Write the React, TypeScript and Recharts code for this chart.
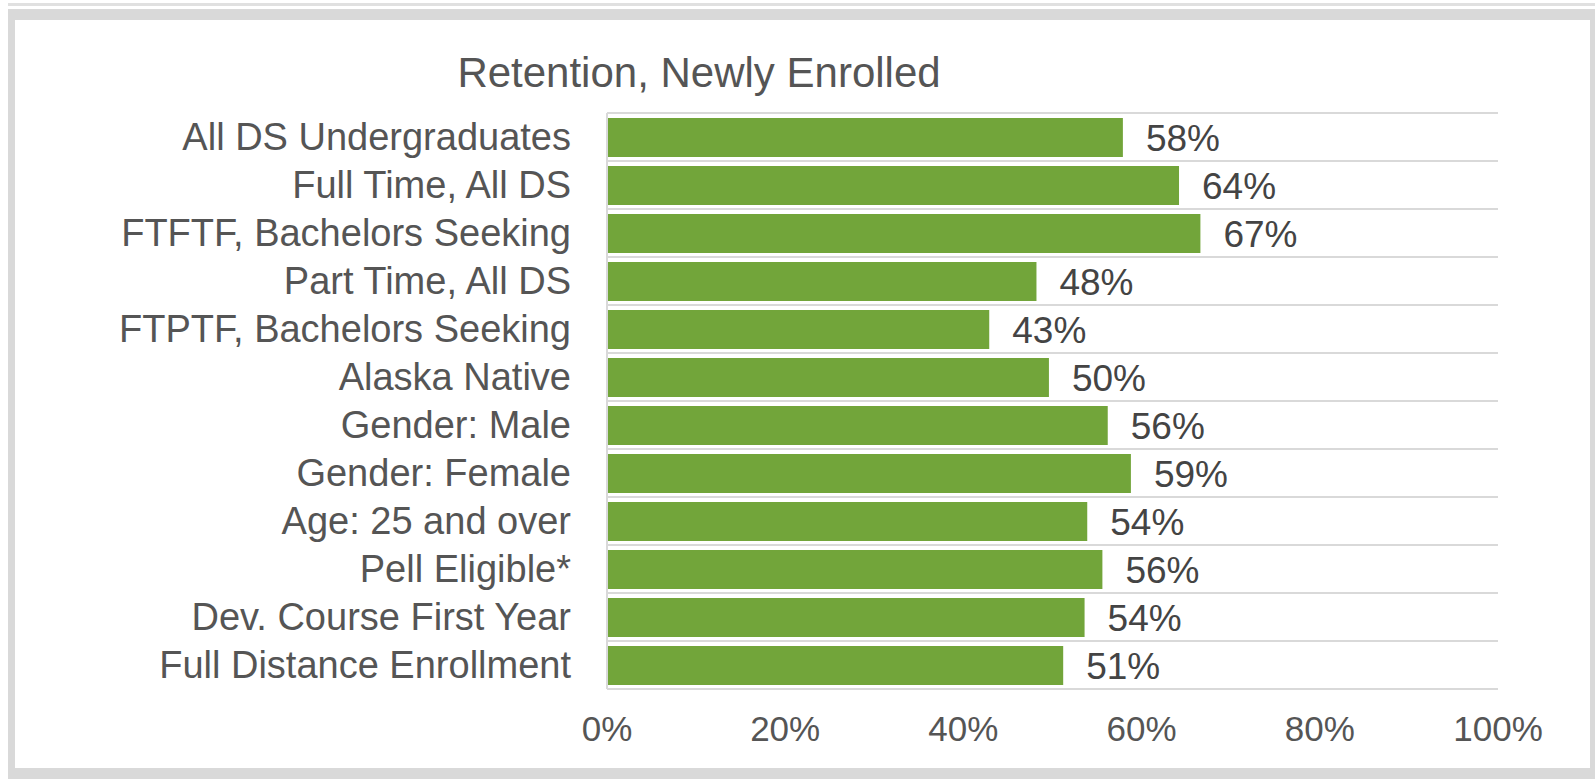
import React from 'react';
import { BarChart, Bar, XAxis, YAxis, CartesianGrid, LabelList } from 'recharts';

const FONT = '"Liberation Sans", Arial, sans-serif';
const TEXT = '#555555';
const GRID = '#d9d9d9';
const GREEN = '#72a53a';

const categories = [
  'All DS Undergraduates',
  'Full Time, All DS',
  'FTFTF, Bachelors Seeking',
  'Part Time, All DS',
  'FTPTF, Bachelors Seeking',
  'Alaska Native',
  'Gender: Male',
  'Gender: Female',
  'Age: 25 and over',
  'Pell Eligible*',
  'Dev. Course First Year',
  'Full Distance Enrollment',
];

const retention = [57.9, 64.2, 66.6, 48.2, 42.9, 49.6, 56.2, 58.8, 53.9, 55.6, 53.6, 51.2];

const xTicks = [0, 20, 40, 60, 80, 100];

const data = categories.map((name, i) => ({ name, value: retention[i] }));

// grid lines sit between the category bands, not through their centres
const bandBorders = ({ offset }: any) => {
  const step = offset.height / categories.length;
  return [...categories.map((_, i) => offset.top + i * step), offset.top + offset.height];
};

const App: React.FC = () => {
  return (
    <div style={{ position: 'absolute', left: 0, top: 0, width: 1595, height: 782, fontFamily: FONT }}>
      <div style={{ position: 'absolute', left: 8, top: 3, width: 1587, height: 3, background: '#e0e0e0' }} />
      <div
        style={{
          position: 'absolute', left: 8, top: 9, width: 1587, height: 770, boxSizing: 'border-box',
          borderStyle: 'solid', borderColor: GRID, borderWidth: '11px 5px 11px 7px', background: '#fff',
        }}
      />
      <div style={{ position: 'absolute', left: 15, top: 20 }}>
        <BarChart
          width={1575}
          height={748}
          data={data}
          layout="vertical"
          margin={{ top: 93, right: 92, left: 0, bottom: 0 }}
        >
          <CartesianGrid vertical={false} stroke={GRID} strokeWidth={2} horizontalCoordinatesGenerator={bandBorders} />
          <XAxis
            type="number"
            domain={[0, 100]}
            ticks={xTicks}
            tickFormatter={(v: number) => `${v}%`}
            axisLine={false}
            tickLine={false}
            tickSize={0}
            tickMargin={27}
            height={79}
            tick={{ fill: TEXT, fontSize: 35, fontFamily: FONT }}
          />
          <YAxis
            type="category"
            dataKey="name"
            width={592}
            axisLine={{ stroke: GRID, strokeWidth: 2 }}
            tickLine={false}
            tickSize={0}
            tickMargin={36}
            interval={0}
            tick={{ fill: TEXT, fontSize: 38, fontFamily: FONT }}
          />
          <Bar dataKey="value" fill={GREEN} barSize={39} isAnimationActive={false}>
            <LabelList
              dataKey="value"
              position="right"
              offset={23}
              formatter={(v: number) => `${Math.round(v)}%`}
              style={{ fill: '#444444', fontSize: 37, fontFamily: FONT }}
            />
          </Bar>
        </BarChart>
      </div>
      <svg style={{ position: 'absolute', left: 0, top: 0 }} width={1595} height={120}>
        <text x={699} y={87} textAnchor="middle" fill={TEXT} fontSize={42} fontFamily={FONT}>
          Retention, Newly Enrolled
        </text>
      </svg>
    </div>
  );
};

export default App;
